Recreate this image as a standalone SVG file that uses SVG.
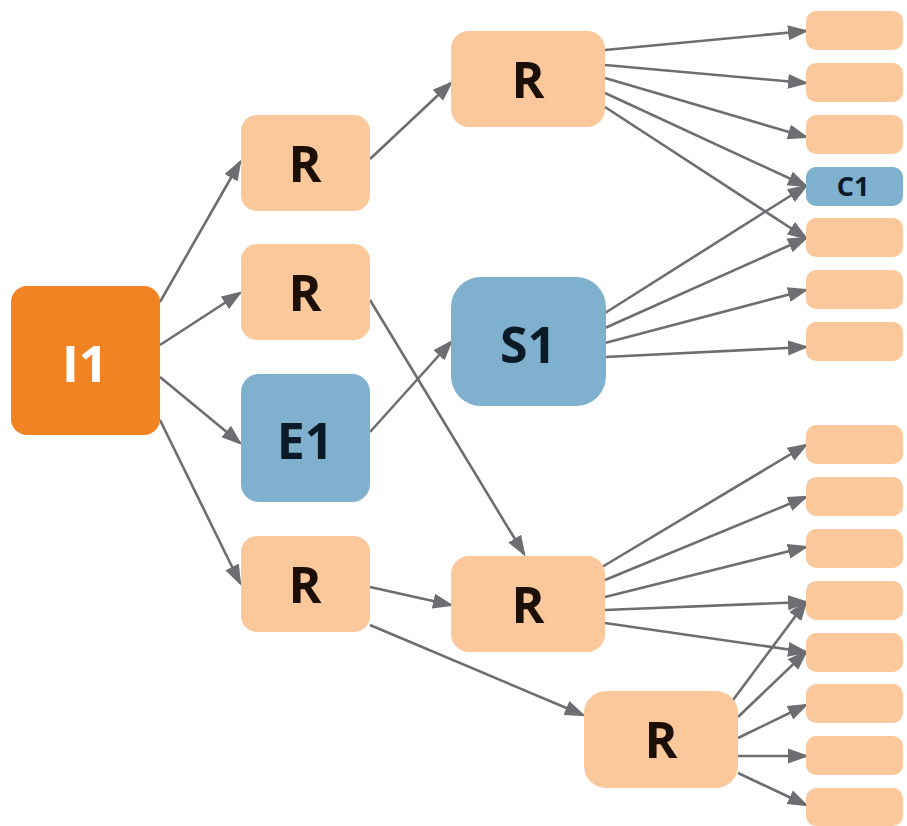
<svg xmlns="http://www.w3.org/2000/svg" width="907" height="826" viewBox="0 0 907 826">
<style>
.peach{fill:#fbc89b}
.blue{fill:#7fb1cf}
.orange{fill:#f28322}
.conn line{stroke:#6d6e71;stroke-width:2.6;marker-end:url(#ah)}
text{font-family:"Open Sans","DejaVu Sans",sans-serif;font-weight:bold;text-anchor:middle}
.big{font-size:50px;fill:#1b0f06}
.bl{font-size:50px;fill:#0b1a27}
.wh{font-size:51px;fill:#ffffff}
.sm{font-size:27px;fill:#0b1a27}
</style>
<defs>
<marker id="ah" markerUnits="userSpaceOnUse" markerWidth="22" markerHeight="16" viewBox="0 0 22 16" refX="18" refY="8" orient="auto">
<path d="M0,0.5 L21,8 L0,15.5 z" fill="#6d6e71"/>
</marker>
</defs>
<rect width="907" height="826" fill="#ffffff"/>
<g id="connectors" class="conn">
<line x1="160" y1="302" x2="240" y2="162"/>
<line x1="160" y1="345" x2="240" y2="293"/>
<line x1="160" y1="377" x2="240" y2="443"/>
<line x1="160" y1="420" x2="240" y2="583"/>
<line x1="370" y1="159" x2="451" y2="83"/>
<line x1="370" y1="300" x2="524" y2="554"/>
<line x1="370" y1="432" x2="451" y2="342"/>
<line x1="370" y1="587" x2="451" y2="605"/>
<line x1="370" y1="625" x2="583" y2="715"/>
<line x1="605" y1="50" x2="806" y2="31"/>
<line x1="605" y1="65" x2="806" y2="83"/>
<line x1="605" y1="78" x2="806" y2="137"/>
<line x1="605" y1="93" x2="806" y2="186"/>
<line x1="605" y1="107" x2="806" y2="238"/>
<line x1="605" y1="313" x2="806" y2="186"/>
<line x1="605" y1="328" x2="806" y2="238"/>
<line x1="605" y1="343" x2="806" y2="290"/>
<line x1="605" y1="357" x2="806" y2="347"/>
<line x1="602" y1="567" x2="806" y2="445"/>
<line x1="605" y1="580" x2="806" y2="497"/>
<line x1="605" y1="597" x2="806" y2="547"/>
<line x1="605" y1="610" x2="806" y2="602"/>
<line x1="605" y1="623" x2="806" y2="652"/>
<line x1="733" y1="700" x2="806" y2="602"/>
<line x1="738" y1="717" x2="806" y2="652"/>
<line x1="738" y1="738" x2="806" y2="705"/>
<line x1="738" y1="756" x2="806" y2="756"/>
<line x1="738" y1="773" x2="806" y2="805"/>
</g>
<g id="I1"><rect class="orange" x="11" y="286" width="149" height="149" rx="16"/><text class="wh" x="85" y="382">I1</text></g>
<g id="R1"><rect class="peach" x="241" y="115" width="129" height="96" rx="16"/><text class="big" x="305" y="182">R</text></g>
<g id="R2"><rect class="peach" x="241" y="244" width="129" height="96" rx="16"/><text class="big" x="305" y="311">R</text></g>
<g id="E1"><rect class="blue" x="241" y="374" width="129" height="128" rx="18"/><text class="bl" x="305" y="459">E1</text></g>
<g id="R4"><rect class="peach" x="241" y="536" width="129" height="96" rx="16"/><text class="big" x="305" y="603">R</text></g>
<g id="R5"><rect class="peach" x="451" y="31" width="154" height="96" rx="18"/><text class="big" x="528" y="98">R</text></g>
<g id="S1"><rect class="blue" x="451" y="277" width="155" height="129" rx="30"/><text class="bl" x="528" y="363">S1</text></g>
<g id="R6"><rect class="peach" x="451" y="556" width="154" height="96" rx="18"/><text class="big" x="528" y="623">R</text></g>
<g id="R7"><rect class="peach" x="584" y="691" width="154" height="97" rx="22"/><text class="big" x="661" y="758">R</text></g>
<g id="L1"><rect class="peach" x="806" y="11" width="97" height="39" rx="10"/></g>
<g id="L2"><rect class="peach" x="806" y="63" width="97" height="39" rx="10"/></g>
<g id="L3"><rect class="peach" x="806" y="115" width="97" height="39" rx="10"/></g>
<g id="C1"><rect class="blue" x="806" y="167" width="97" height="39" rx="10"/><text class="sm" x="853" y="196">C1</text></g>
<g id="L5"><rect class="peach" x="806" y="218" width="97" height="39" rx="10"/></g>
<g id="L6"><rect class="peach" x="806" y="270" width="97" height="39" rx="10"/></g>
<g id="L7"><rect class="peach" x="806" y="322" width="97" height="39" rx="10"/></g>
<g id="L8"><rect class="peach" x="806" y="425" width="97" height="39" rx="10"/></g>
<g id="L9"><rect class="peach" x="806" y="477" width="97" height="39" rx="10"/></g>
<g id="L10"><rect class="peach" x="806" y="529" width="97" height="39" rx="10"/></g>
<g id="L11"><rect class="peach" x="806" y="581" width="97" height="39" rx="10"/></g>
<g id="L12"><rect class="peach" x="806" y="633" width="97" height="39" rx="10"/></g>
<g id="L13"><rect class="peach" x="806" y="684" width="97" height="39" rx="10"/></g>
<g id="L14"><rect class="peach" x="806" y="736" width="97" height="39" rx="10"/></g>
<g id="L15"><rect class="peach" x="806" y="788" width="97" height="38" rx="10"/></g>
</svg>
